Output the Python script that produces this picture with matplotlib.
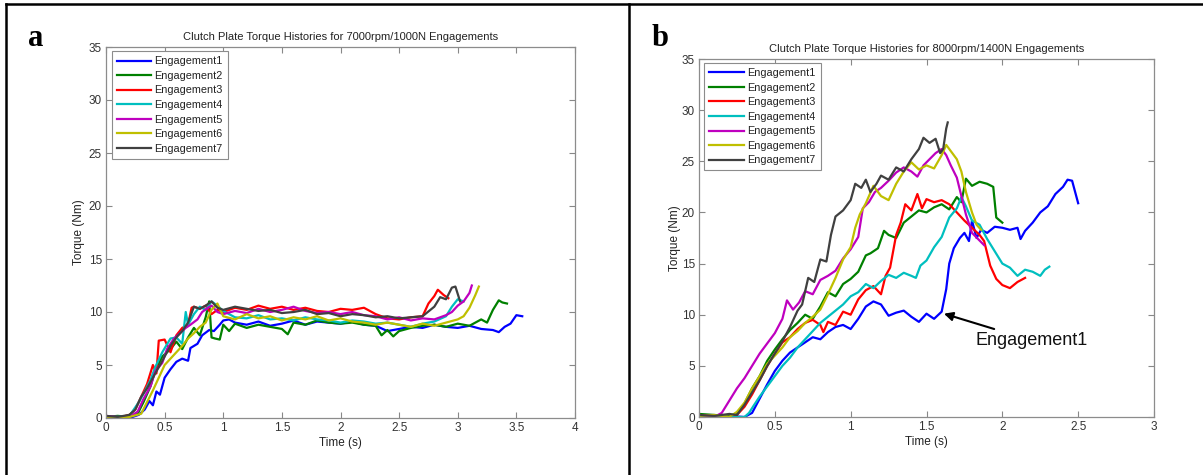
import matplotlib
matplotlib.use("Agg")
import matplotlib.pyplot as plt
from matplotlib.lines import Line2D

plt.rcParams['font.family'] = ['Liberation Sans', 'DejaVu Sans']

# ---- panel a: 7000rpm / 1000N ----
a_t1 = [0, 0.1, 0.2, 0.28, 0.33, 0.37, 0.40, 0.43, 0.46, 0.5, 0.55, 0.6, 0.65, 0.7, 0.72, 0.78, 0.82, 0.88, 0.92, 0.97,
        1.0, 1.05, 1.1, 1.2, 1.3, 1.4, 1.5, 1.6, 1.7, 1.8, 1.9, 2.0, 2.1, 2.2, 2.3, 2.4, 2.5, 2.6, 2.7, 2.8,
        2.9, 3.0, 3.1, 3.2, 3.3, 3.35, 3.4, 3.45, 3.5, 3.55]
a_y1 = [0.1, 0.1, 0, 0.3, 0.8, 1.6, 1.2, 2.5, 2.2, 3.8, 4.6, 5.3, 5.6, 5.4, 6.6, 7.0, 7.8, 8.3, 8.2, 8.8,
        9.2, 9.3, 9.0, 8.8, 9.1, 8.7, 8.9, 9.2, 8.8, 9.1, 9.0, 8.9, 9.1, 8.8, 8.7, 8.2, 8.4, 8.6, 8.5, 8.8,
        8.6, 8.5, 8.7, 8.4, 8.3, 8.1, 8.6, 8.9, 9.7, 9.6]
a_t2 = [0, 0.1, 0.2, 0.27, 0.32, 0.38, 0.42, 0.48, 0.55, 0.6, 0.65, 0.7, 0.75, 0.8, 0.85, 0.88, 0.9, 0.93, 0.97, 1.0,
        1.05, 1.1, 1.2, 1.3, 1.4, 1.5, 1.55, 1.6, 1.7, 1.8, 1.9, 2.0, 2.1, 2.2, 2.3, 2.35, 2.4, 2.45, 2.5, 2.6,
        2.7, 2.8, 2.9, 3.0, 3.1, 3.2, 3.25, 3.3, 3.35, 3.38, 3.42]
a_y2 = [0.1, 0.2, 0.1, 0.4, 1.5, 3.0, 4.5, 5.8, 6.5, 7.2, 6.5, 7.6, 8.5, 7.8, 9.5, 11.0, 7.6, 7.5, 7.4, 8.8,
        8.2, 8.9, 8.5, 8.8, 8.6, 8.4, 7.9, 9.0, 8.8, 9.2, 9.0, 8.9, 9.0, 8.8, 8.7, 7.8, 8.3, 7.7, 8.2, 8.5,
        8.7, 8.8, 8.6, 8.9, 8.7, 9.3, 9.0, 10.2, 11.1, 10.9, 10.8]
a_t3 = [0, 0.1, 0.2, 0.25, 0.3, 0.35, 0.4, 0.43, 0.45, 0.5, 0.55, 0.6, 0.65, 0.7, 0.73, 0.75, 0.8, 0.85, 0.9, 0.95,
        1.0, 1.1, 1.2, 1.3, 1.4, 1.5, 1.6, 1.7, 1.8, 1.9, 2.0, 2.1, 2.2, 2.3, 2.4, 2.5, 2.6, 2.7, 2.75, 2.8,
        2.83, 2.88, 2.92]
a_y3 = [0.1, 0, 0.3, 0.8, 2.0, 3.2, 5.0, 4.2, 7.3, 7.4, 6.2, 7.8, 8.5, 8.8, 10.4, 10.5, 10.3, 10.6, 9.8, 10.2,
        10.0, 10.4, 10.2, 10.6, 10.3, 10.5, 10.2, 10.4, 10.1, 10.0, 10.3, 10.2, 10.4, 9.8, 9.4, 9.3, 9.5, 9.6, 10.8, 11.5,
        12.1, 11.6, 11.3]
a_t4 = [0, 0.1, 0.2, 0.28, 0.33, 0.38, 0.42, 0.48, 0.55, 0.6, 0.65, 0.68, 0.7, 0.75, 0.8, 0.85, 0.9, 0.95, 1.0, 1.1,
        1.2, 1.3, 1.4, 1.5, 1.6, 1.7, 1.8, 1.9, 2.0, 2.1, 2.2, 2.3, 2.4, 2.5, 2.6, 2.7, 2.8, 2.9, 2.95, 3.0, 3.05]
a_y4 = [0.1, 0.1, 0.2, 1.5, 2.5, 3.6, 4.8, 6.2, 7.5, 7.6, 7.0, 10.0, 8.8, 9.8, 10.5, 10.2, 11.0, 10.6, 10.1, 9.5,
        9.4, 9.7, 9.3, 9.4, 9.2, 9.5, 9.3, 9.2, 9.0, 9.2, 9.1, 8.9, 9.0, 8.8, 8.6, 8.9, 9.1, 9.6, 10.5, 11.2, 11.0]
a_t5 = [0, 0.1, 0.2, 0.27, 0.32, 0.38, 0.42, 0.48, 0.52, 0.58, 0.63, 0.68, 0.72, 0.78, 0.82, 0.87, 0.9, 0.95, 1.0, 1.1,
        1.2, 1.3, 1.4, 1.5, 1.6, 1.7, 1.8, 1.9, 2.0, 2.1, 2.2, 2.3, 2.4, 2.5, 2.6, 2.7, 2.8, 2.9, 2.95, 3.0,
        3.05, 3.1, 3.12]
a_y5 = [0.2, 0.1, 0.1, 0.6, 1.8, 3.0, 4.4, 5.2, 6.5, 7.5, 8.0, 8.5, 8.8, 9.3, 10.0, 10.4, 10.6, 10.0, 9.8, 10.1,
        9.9, 10.3, 10.0, 10.2, 10.5, 10.1, 9.9, 10.0, 9.8, 10.0, 9.7, 9.6, 9.3, 9.5, 9.2, 9.4, 9.3, 9.7, 10.0, 10.6,
        11.0, 11.8, 12.5]
a_t6 = [0, 0.1, 0.2, 0.3, 0.35, 0.4, 0.45, 0.5, 0.55, 0.6, 0.65, 0.7, 0.75, 0.8, 0.85, 0.9, 0.95, 1.0, 1.1, 1.2,
        1.3, 1.4, 1.5, 1.6, 1.7, 1.8, 1.9, 2.0, 2.1, 2.2, 2.3, 2.4, 2.5, 2.6, 2.7, 2.8, 2.9, 3.0, 3.05, 3.1,
        3.15, 3.18]
a_y6 = [0.1, 0, 0.1, 0.4, 1.5, 2.6, 3.8, 5.0, 5.6, 6.2, 6.8, 7.5, 8.0, 8.6, 9.0, 10.2, 10.8, 9.6, 9.3, 9.8,
        9.4, 9.6, 9.2, 9.5, 9.3, 9.6, 9.2, 9.4, 9.1, 9.0, 8.8, 9.0, 8.8, 8.6, 8.9, 8.7, 9.0, 9.3, 9.6, 10.4,
        11.6, 12.4]
a_t7 = [0, 0.1, 0.2, 0.25, 0.3, 0.35, 0.4, 0.45, 0.5, 0.55, 0.6, 0.65, 0.7, 0.75, 0.8, 0.85, 0.9, 0.95, 1.0, 1.1,
        1.2, 1.3, 1.4, 1.5, 1.6, 1.7, 1.8, 1.9, 2.0, 2.1, 2.2, 2.3, 2.4, 2.5, 2.6, 2.7, 2.8, 2.85, 2.9, 2.95,
        2.98, 3.02]
a_y7 = [0.2, 0.1, 0.3, 0.8, 2.0, 2.8, 3.8, 4.8, 5.8, 6.8, 7.6, 8.2, 9.0, 10.5, 10.3, 10.6, 11.0, 10.4, 10.2, 10.5,
        10.3, 10.1, 10.2, 9.9, 10.0, 10.2, 9.8, 9.9, 9.6, 9.8, 9.7, 9.5, 9.6, 9.4, 9.5, 9.6, 10.5, 11.4, 11.2, 12.3,
        12.4, 11.0]

# ---- panel b: 8000rpm / 1400N ----
b_t1 = [0, 0.1, 0.2, 0.3, 0.35, 0.4, 0.45, 0.5, 0.55, 0.6, 0.65, 0.7, 0.75, 0.8, 0.85, 0.9, 0.95, 1.0, 1.05, 1.1,
        1.15, 1.2, 1.25, 1.3, 1.35, 1.4, 1.45, 1.5, 1.55, 1.6, 1.63, 1.65, 1.68, 1.72, 1.75, 1.78, 1.8, 1.83, 1.86, 1.9,
        1.95, 2.0, 2.05, 2.1, 2.12, 2.15, 2.2, 2.25, 2.3, 2.35, 2.4, 2.43, 2.46, 2.48, 2.5]
b_y1 = [0.2, 0.1, 0.1, 0, 0.4, 1.8, 3.2, 4.5, 5.5, 6.3, 6.8, 7.3, 7.8, 7.6, 8.3, 8.8, 9.0, 8.6, 9.6, 10.8,
        11.3, 11.0, 9.9, 10.2, 10.4, 9.8, 9.3, 10.1, 9.6, 10.3, 12.5, 15.0, 16.5, 17.5, 18.0, 17.2, 19.2, 17.5, 18.3, 18.0,
        18.6, 18.5, 18.3, 18.5, 17.4, 18.2, 19.0, 20.0, 20.6, 21.8, 22.5, 23.2, 23.1, 22.0, 20.9]
b_t2 = [0, 0.1, 0.2, 0.25, 0.3, 0.35, 0.4, 0.45, 0.5, 0.55, 0.6, 0.65, 0.7, 0.75, 0.8, 0.85, 0.9, 0.95, 1.0, 1.05,
        1.1, 1.13, 1.18, 1.22, 1.25, 1.3, 1.35, 1.4, 1.45, 1.5, 1.55, 1.6, 1.65, 1.7, 1.73, 1.76, 1.8, 1.85, 1.9, 1.94,
        1.96, 2.0]
b_y2 = [0.3, 0.2, 0.1, 0.3, 1.3, 2.8, 4.0, 5.5, 6.6, 7.6, 8.5, 9.2, 10.0, 9.6, 10.8, 12.2, 11.8, 13.0, 13.5, 14.2,
        15.8, 16.0, 16.5, 18.2, 17.8, 17.5, 19.0, 19.6, 20.2, 20.0, 20.5, 20.8, 20.3, 21.5, 21.0, 23.3, 22.6, 23.0, 22.8, 22.5,
        19.5, 19.0]
b_t3 = [0, 0.1, 0.2, 0.25, 0.3, 0.35, 0.4, 0.45, 0.5, 0.55, 0.6, 0.65, 0.7, 0.75, 0.8, 0.82, 0.85, 0.9, 0.95, 1.0,
        1.05, 1.1, 1.15, 1.2, 1.23, 1.26, 1.3, 1.33, 1.36, 1.4, 1.44, 1.47, 1.5, 1.55, 1.6, 1.65, 1.7, 1.75, 1.8, 1.85,
        1.88, 1.92, 1.96, 2.0, 2.05, 2.1, 2.15]
b_y3 = [0.2, 0.1, 0, 0.2, 1.0, 2.2, 3.6, 5.0, 6.2, 7.3, 7.8, 8.6, 9.2, 9.5, 9.0, 8.3, 9.3, 9.0, 10.3, 10.0,
        11.5, 12.4, 12.8, 12.0, 13.8, 14.6, 17.8, 19.0, 20.8, 20.2, 21.8, 20.4, 21.3, 21.0, 21.2, 20.8, 20.0, 19.2, 18.5, 17.8,
        17.2, 14.8, 13.5, 12.9, 12.6, 13.2, 13.6]
b_t4 = [0, 0.1, 0.2, 0.3, 0.33, 0.36, 0.4, 0.45, 0.5, 0.55, 0.6, 0.65, 0.7, 0.75, 0.8, 0.85, 0.9, 0.95, 1.0, 1.05,
        1.1, 1.15, 1.2, 1.25, 1.3, 1.35, 1.4, 1.43, 1.46, 1.5, 1.55, 1.6, 1.65, 1.7, 1.73, 1.76, 1.8, 1.85, 1.9, 1.95,
        2.0, 2.05, 2.1, 2.15, 2.2, 2.25, 2.28, 2.31]
b_y4 = [0.1, 0.1, 0, 0, 0.4, 1.1, 2.0, 3.0, 4.0, 5.0, 5.8, 6.8, 7.6, 8.4, 9.2, 9.8, 10.4, 11.0, 11.8, 12.2,
        13.0, 12.6, 13.3, 13.9, 13.6, 14.1, 13.8, 13.6, 14.8, 15.3, 16.6, 17.6, 19.5, 20.4, 21.5, 20.6, 19.2, 18.8, 17.4, 16.2,
        15.0, 14.6, 13.8, 14.4, 14.2, 13.8, 14.4, 14.7]
b_t5 = [0, 0.05, 0.1, 0.15, 0.2, 0.25, 0.3, 0.35, 0.4, 0.45, 0.5, 0.55, 0.58, 0.62, 0.66, 0.7, 0.75, 0.8, 0.85, 0.9,
        0.95, 1.0, 1.05, 1.08, 1.12, 1.16, 1.2, 1.25, 1.3, 1.35, 1.4, 1.44, 1.48, 1.52, 1.56, 1.6, 1.63, 1.66, 1.7, 1.73,
        1.76, 1.8, 1.84, 1.88]
b_y5 = [0.2, 0.1, 0, 0.4, 1.6, 2.8, 3.8, 5.0, 6.2, 7.2, 8.2, 9.6, 11.4, 10.5, 11.2, 12.3, 12.0, 13.4, 13.8, 14.3,
        15.5, 16.4, 17.6, 20.4, 21.0, 22.0, 22.4, 23.1, 23.9, 24.4, 24.0, 23.5, 24.6, 25.2, 25.8, 26.2, 25.6, 24.6, 23.4, 21.6,
        19.8, 18.0, 17.4, 16.8]
b_t6 = [0, 0.1, 0.2, 0.25, 0.3, 0.35, 0.4, 0.45, 0.5, 0.55, 0.6, 0.65, 0.7, 0.75, 0.8, 0.85, 0.9, 0.95, 1.0, 1.03,
        1.06, 1.1, 1.15, 1.2, 1.25, 1.3, 1.35, 1.4, 1.45, 1.5, 1.55, 1.6, 1.63, 1.66, 1.7, 1.73, 1.76, 1.8, 1.83, 1.86]
b_y6 = [0.1, 0.2, 0, 0.5, 1.4, 2.8, 4.0, 5.2, 6.0, 6.8, 7.8, 8.4, 9.2, 9.8, 10.5, 12.0, 13.6, 15.4, 16.6, 18.5,
        19.8, 20.9, 22.6, 21.6, 21.2, 22.8, 24.0, 24.9, 24.2, 24.6, 24.3, 25.6, 26.6, 26.0, 25.2, 24.0, 22.0, 20.0, 18.8, 18.3]
b_t7 = [0, 0.1, 0.2, 0.25, 0.3, 0.35, 0.4, 0.45, 0.5, 0.55, 0.6, 0.65, 0.68, 0.72, 0.76, 0.8, 0.84, 0.87, 0.9, 0.95,
        1.0, 1.03, 1.07, 1.1, 1.13, 1.17, 1.2, 1.25, 1.3, 1.35, 1.4, 1.45, 1.48, 1.52, 1.56, 1.59, 1.61, 1.63, 1.64]
b_y7 = [0.2, 0.1, 0.3, 0.2, 1.2, 2.4, 3.6, 5.0, 6.2, 7.4, 8.8, 10.4, 11.0, 13.6, 13.2, 15.4, 15.2, 17.8, 19.6, 20.2,
        21.2, 22.8, 22.4, 23.2, 22.0, 22.8, 23.6, 23.2, 24.4, 24.0, 25.2, 26.2, 27.3, 26.8, 27.2, 25.8, 26.2, 28.2, 28.8]

labels = ['Engagement1', 'Engagement2', 'Engagement3', 'Engagement4',
          'Engagement5', 'Engagement6', 'Engagement7']
colors = [(0, 0, 1), (0, 0.5, 0), (1, 0, 0), (0, 0.75, 0.75),
          (0.75, 0, 0.75), (0.75, 0.75, 0), (0.25, 0.25, 0.25)]

a_xticks = [0, 0.5, 1, 1.5, 2, 2.5, 3, 3.5, 4]
a_xlabels = ['0', '0.5', '1', '1.5', '2', '2.5', '3', '3.5', '4']
b_xticks = [0, 0.5, 1, 1.5, 2, 2.5, 3]
b_xlabels = ['0', '0.5', '1', '1.5', '2', '2.5', '3']
yticks = [0, 5, 10, 15, 20, 25, 30, 35]

titles = ['Clutch Plate Torque Histories for 7000rpm/1000N Engagements',
          'Clutch Plate Torque Histories for 8000rpm/1400N Engagements']

W, H = 1203, 475
fig = plt.figure(figsize=(W / 100, H / 100), dpi=100)
fig.patch.set_facecolor('white')


def px_axes(left, top, right, bottom):
    return fig.add_axes([left / W, 1 - bottom / H, (right - left) / W, (bottom - top) / H])


def style_axes(ax, xticks, xlabels, xmax, title):
    ax.set_xlim(0, xmax)
    ax.set_ylim(0, 35)
    ax.set_xticks(xticks)
    ax.set_xticklabels(xlabels)
    ax.set_yticks(yticks)
    ax.tick_params(direction='in', top=True, right=True, length=4, width=0.8,
                   color='#888888', labelcolor='#333333', labelsize=8.5, pad=3)
    for s in ax.spines.values():
        s.set_color('#8c8c8c')
        s.set_linewidth(0.9)
    ax.set_title(title, fontsize=8.0, color='#222222', pad=5)
    ax.set_xlabel('Time (s)', fontsize=8.5, color='#222222')
    ax.set_ylabel('Torque (Nm)', fontsize=8.5, color='#222222')
    ax.xaxis.set_label_coords(0.5, -0.052)


ax_a = px_axes(106, 47, 575, 418)
a_series = [(a_t1, a_y1), (a_t2, a_y2), (a_t3, a_y3), (a_t4, a_y4),
            (a_t5, a_y5), (a_t6, a_y6), (a_t7, a_y7)]
for (t, y), c, lab in zip(a_series, colors, labels):
    ax_a.plot(t, y, color=c, lw=1.6, label=lab)
style_axes(ax_a, a_xticks, a_xlabels, 4, titles[0])
ax_a.yaxis.set_label_coords(-0.045, 0.5)

ax_b = px_axes(699, 59, 1154, 417)
b_series = [(b_t1, b_y1), (b_t2, b_y2), (b_t3, b_y3), (b_t4, b_y4),
            (b_t5, b_y5), (b_t6, b_y6), (b_t7, b_y7)]
for (t, y), c, lab in zip(b_series, colors, labels):
    ax_b.plot(t, y, color=c, lw=1.6, label=lab)
style_axes(ax_b, b_xticks, b_xlabels, 3, titles[1])
ax_b.yaxis.set_label_coords(-0.04, 0.5)

ax_b.annotate('Engagement1', xy=(1.615, 10.1), xytext=(1.82, 7.5),
              fontsize=13, color='#111111', va='center', ha='left',
              arrowprops=dict(arrowstyle='-|>', color='black', lw=1.5,
                              mutation_scale=13, shrinkA=0, shrinkB=0))

for ax in (ax_a, ax_b):
    leg = ax.legend(loc='upper left', bbox_to_anchor=(0.012, 0.988), fontsize=7.8,
                    frameon=True, fancybox=False, framealpha=1, edgecolor='#8c8c8c',
                    handlelength=3.2, handletextpad=0.3, labelspacing=0.42,
                    borderpad=0.45, borderaxespad=0)
    leg.get_frame().set_linewidth(0.8)
    for txt in leg.get_texts():
        txt.set_color('#222222')

# panel letters
fig.text(36 / W, 1 - 46 / H, 'a', fontsize=22, fontweight='bold',
         family=['Liberation Serif', 'DejaVu Serif'], ha='center', va='baseline')
fig.text(660 / W, 1 - 46 / H, 'b', fontsize=22, fontweight='bold',
         family=['Liberation Serif', 'DejaVu Serif'], ha='center', va='baseline')

# table-style borders (top, left edge and middle divider)
for x0, y0, x1, y1 in [(6, 4, 1203, 4), (6, 4, 6, 475), (629, 4, 629, 475)]:
    fig.add_artist(Line2D([x0 / W, x1 / W], [1 - y0 / H, 1 - y1 / H],
                          transform=fig.transFigure, color='black', lw=1.8))

fig.savefig('out.png', dpi=100)
